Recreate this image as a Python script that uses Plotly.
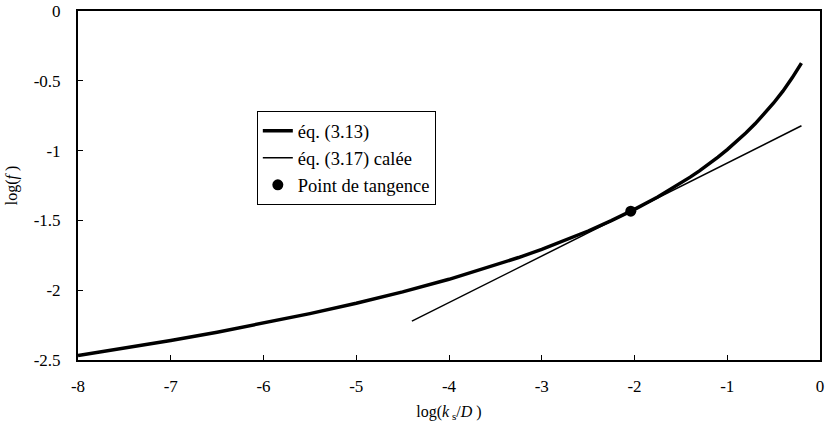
import plotly.graph_objects as go

# log(ks/D) abscissae and log(f) for eq. (3.13)
log_ks_d = [-8.0, -7.5, -7.0, -6.5, -6.0, -5.5, -5.0, -4.5, -4.0, -3.5,
            -3.25, -3.0, -2.75, -2.5, -2.25, -2.0, -1.75, -1.5, -1.4, -1.3,
            -1.2, -1.1, -1.0, -0.9, -0.8, -0.7, -0.6, -0.5, -0.4, -0.3, -0.2]
log_f_313 = [-2.468, -2.416, -2.360, -2.301, -2.237, -2.168, -2.094, -2.012, -1.922, -1.821,
             -1.766, -1.707, -1.644, -1.576, -1.502, -1.421, -1.332, -1.233, -1.190, -1.145,
             -1.097, -1.047, -0.993, -0.936, -0.874, -0.808, -0.737, -0.659, -0.574, -0.479, -0.373]

# eq. (3.17) fitted line (endpoints)
log_ks_d_317 = [-4.4, -0.2]
log_f_317 = [-2.222, -0.822]

# tangency point
tan_x = [-2.04]
tan_y = [-1.434]

x_ticks = [-8, -7, -6, -5, -4, -3, -2, -1, 0]
x_tick_text = ["-8", "-7", "-6", "-5", "-4", "-3", "-2", "-1", "0"]
y_ticks = [-2.5, -2, -1.5, -1, -0.5, 0]
y_tick_text = ["-2.5", "-2", "-1.5", "-1", "-0.5", "0"]

FONT = "Liberation Serif"

fig = go.Figure()
fig.add_trace(go.Scatter(
    x=log_ks_d, y=log_f_313, mode="lines", name="éq. (3.13)",
    line=dict(color="black", width=3.5),
))
fig.add_trace(go.Scatter(
    x=log_ks_d_317, y=log_f_317, mode="lines", name="éq. (3.17) calée",
    line=dict(color="black", width=1.5),
))
fig.add_trace(go.Scatter(
    x=tan_x, y=tan_y, mode="markers", name="Point de tangence",
    marker=dict(color="black", size=11),
))

fig.update_xaxes(
    range=[-8, 0], tickvals=x_ticks, ticktext=x_tick_text,
    ticklabelstandoff=10,
    title_text="log(<i>k</i><sub> s</sub>/<i>D</i> )",
    title_font_family=FONT, title_font_size=16, title_standoff=10,
)
fig.update_yaxes(
    range=[-2.5, 0], tickvals=y_ticks, ticktext=y_tick_text,
    ticklabelstandoff=12,
    title_text="log(<i>f</i> )",
    title_font_family=FONT, title_font_size=16, title_standoff=12,
)
fig.update_xaxes(showgrid=False, zeroline=False, showline=True, linecolor="black",
                 linewidth=2, mirror=True, ticks="inside", ticklen=5,
                 tickcolor="black", tickwidth=1,
                 tickfont_family=FONT, tickfont_size=17, tickfont_color="black")
fig.update_yaxes(showgrid=False, zeroline=False, showline=True, linecolor="black",
                 linewidth=2, mirror=True, ticks="inside", ticklen=5,
                 tickcolor="black", tickwidth=1,
                 tickfont_family=FONT, tickfont_size=17, tickfont_color="black")

fig.update_layout(
    template="none",
    width=828, height=436,
    margin=dict(l=78, r=8, t=11, b=76),
    paper_bgcolor="white", plot_bgcolor="white",
    font_family=FONT, font_size=17, font_color="black",
    showlegend=True,
    legend=dict(x=0.241, y=0.713, xanchor="left", yanchor="top",
                bgcolor="white", bordercolor="black", borderwidth=1,
                font_family=FONT, font_size=18.5, font_color="black",
                tracegroupgap=0),
)

fig.write_html("out.html")
